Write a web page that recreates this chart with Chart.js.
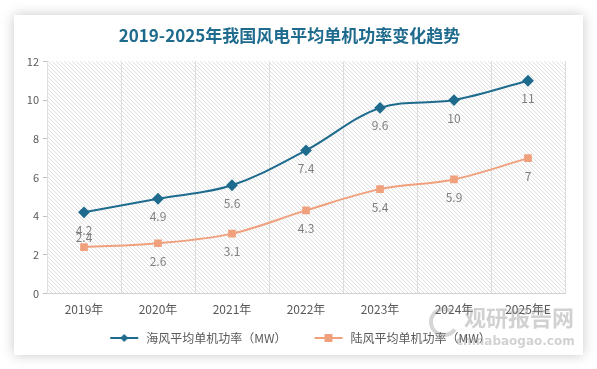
<!DOCTYPE html>
<html>
<head>
<meta charset="utf-8">
<script src="https://cdn.jsdelivr.net/npm/chart.js@4/dist/chart.umd.min.js"></script>
<style>
  html,body{margin:0;padding:0;background:#fff;}
  #card{position:absolute;left:14px;top:15px;width:569px;height:340px;background:#fff;box-shadow:0 0 12px rgba(0,0,0,0.22);}
  #c{display:block;}
</style>
</head>
<body>
<div id="card"><canvas id="c" width="569" height="340"></canvas></div>
<script>
// 风电单机功率 (MW)
const years = ['2019年','2020年','2021年','2022年','2023年','2024年','2025年E'];
const offshore = [4.2, 4.9, 5.6, 7.4, 9.6, 10, 11];
const onshore  = [2.4, 2.6, 3.1, 4.3, 5.4, 5.9, 7];
const yTicks = [0, 2, 4, 6, 8, 10, 12];

const BLUE = '#1f6b8e', ORANGE = '#f0a07c';
const FONT = '"Noto Sans CJK SC", "Noto Sans", sans-serif';

// hatch tile for the plot area
function hatch(){
  const t = document.createElement('canvas'); t.width = 4; t.height = 4;
  const g = t.getContext('2d');
  g.strokeStyle = '#e0e0e0'; g.lineWidth = 1;
  g.beginPath(); g.moveTo(0,0); g.lineTo(4,4); g.moveTo(-1,3); g.lineTo(1,5); g.moveTo(3,-1); g.lineTo(5,1); g.stroke();
  return t;
}

// legend icon: line with marker, blank room on the left as item gap
function legendIcon(color, shape){
  const t = document.createElement('canvas'); t.width = 52; t.height = 12;
  const g = t.getContext('2d');
  g.strokeStyle = color; g.lineWidth = 2;
  g.beginPath(); g.moveTo(22,6); g.lineTo(50,6); g.stroke();
  g.fillStyle = color;
  if(shape==='d'){ g.beginPath(); g.moveTo(36,2); g.lineTo(40,6); g.lineTo(36,10); g.lineTo(32,6); g.closePath(); g.fill(); }
  else g.fillRect(32,2,8,8);
  return t;
}

const bgPlugin = {
  id:'bg',
  beforeDraw(chart){
    const {ctx, chartArea:a} = chart;
    ctx.save();
    ctx.fillStyle = ctx.createPattern(hatch(), 'repeat');
    ctx.fillRect(a.left, a.top, a.right-a.left, a.bottom-a.top);
    ctx.restore();
  }
};

const labelPlugin = {
  id:'vals',
  afterDatasetsDraw(chart){
    const ctx = chart.ctx;
    ctx.save();
    ctx.font = '12px ' + FONT; ctx.fillStyle = '#7f7f7f';
    ctx.textAlign = 'center'; ctx.textBaseline = 'middle';
    chart.data.datasets.forEach((ds, i) => {
      chart.getDatasetMeta(i).data.forEach((p, j) => {
        const up = (i===1 && j===0);
        ctx.fillText(String(ds.data[j]), p.x, p.y + (up ? -10 : 18));
      });
    });
    ctx.restore();
  }
};

const markPlugin = {
  id:'mark',
  afterDraw(chart){
    const ctx = chart.ctx;
    ctx.save();
    ctx.globalAlpha = 0.35;
    ctx.strokeStyle = '#8a8a8a'; ctx.lineWidth = 4;
    ctx.beginPath(); ctx.arc(430, 307, 13, 0.6, 5.4); ctx.stroke();
    ctx.fillStyle = '#7a7a7a';
    ctx.font = 'bold 22px ' + FONT; ctx.textAlign = 'left'; ctx.textBaseline = 'middle';
    ctx.fillText('观研报告网', 450, 303);
    ctx.font = 'bold 12px "DejaVu Sans", sans-serif';
    ctx.fillText('chinabaogao.com', 442, 327);
    ctx.restore();
  }
};

new Chart(document.getElementById('c').getContext('2d'), {
  type:'line',
  data:{
    labels: years,
    datasets:[
      {label:'海风平均单机功率（MW）', data: offshore, borderColor: BLUE, backgroundColor: BLUE, borderWidth: 2,
       pointStyle:'rectRot', pointRadius: 4.5, pointHoverRadius: 4.5, tension: 0.35, fill:false},
      {label:'陆风平均单机功率（MW）', data: onshore, borderColor: ORANGE, backgroundColor: ORANGE, borderWidth: 2,
       pointStyle:'rect', pointRadius: 4, pointHoverRadius: 4, tension: 0.35, fill:false}
    ]
  },
  options:{
    responsive:false, animation:false,
    layout:{padding:{left:0, right:18, top:0, bottom:1}},
    plugins:{
      title:{display:true, text:'2019-2025年我国风电平均单机功率变化趋势', color: BLUE,
             font:{family: FONT, size: 17, weight:'bold'}, padding:{top:10, bottom:16}},
      legend:{position:'bottom',
        labels:{usePointStyle:true, pointStyleWidth:52, color:'#595959', font:{family: FONT, size: 12}, padding: 6,
          generateLabels(chart){
            return chart.data.datasets.map((ds,i)=>({
              text: ds.label, fontColor:'#595959', datasetIndex:i, hidden:false,
              pointStyle: legendIcon(ds.borderColor, i===0?'d':'s'), lineWidth:0, strokeStyle:'transparent'
            }));
          }}},
      tooltip:{enabled:false}
    },
    scales:{
      x:{offset:true,
         grid:{display:true, offset:true, color:'#dcdcdc', drawTicks:false},
         border:{display:true, color:'#d0d0d0'},
         ticks:{color:'#595959', font:{family: FONT, size: 12}, padding: 9}},
      y:{min:0, max:12,
         afterBuildTicks(s){ s.ticks = yTicks.map(v=>({value:v})); },
         afterFit(s){ s.width = 33; },
         grid:{drawOnChartArea:false, color:'#bfbfbf', tickLength:4},
         border:{display:true, color:'#e0e0e0'},
         ticks:{color:'#595959', font:{family: FONT, size: 11}, padding: 4}}
    }
  },
  plugins:[bgPlugin, labelPlugin, markPlugin]
});
</script>
</body>
</html>
